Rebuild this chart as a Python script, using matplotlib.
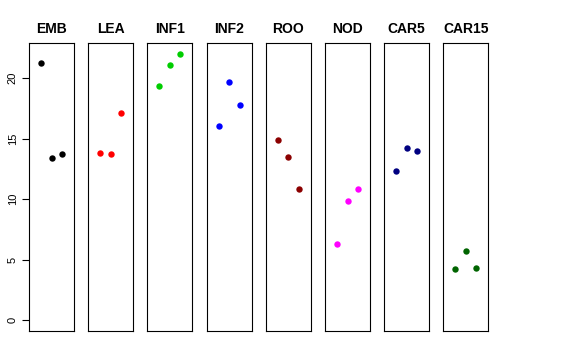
import numpy as np
import matplotlib
matplotlib.use("Agg")
import matplotlib.pyplot as plt

plt.rcParams['font.family'] = ['Liberation Sans', 'DejaVu Sans']

groups = ['EMB', 'LEA', 'INF1', 'INF2', 'ROO', 'NOD', 'CAR5', 'CAR15']
colors = ['black', 'red', '#00CD00', 'blue', '#8B0000', 'magenta', '#000080', '#006400']
vals = [
    [21.2, 13.4, 13.7],
    [13.8, 13.7, 17.1],
    [19.35, 21.05, 22.0],
    [16.0, 19.65, 17.8],
    [14.9, 13.5, 10.8],
    [6.3, 9.85, 10.85],
    [12.35, 14.25, 14.0],
    [4.25, 5.7, 4.3],
]
reps = [1, 2, 3]

fig = plt.figure(figsize=(5.76, 3.6), dpi=100)

# panel layout in pixels
W, H = 576, 360
x0, pw, step = 29, 45, 59.2
top, bot = 43, 331

for i, g in enumerate(groups):
    left = x0 + i * step
    ax = fig.add_axes([left / W, (H - bot) / H, pw / W, (bot - top) / H])
    ax.plot(reps, vals[i], 'o', color=colors[i], markersize=4.6, markeredgewidth=0)
    ax.set_xlim(-0.16, 4.16)
    ax.set_ylim(-0.88, 22.88)
    ax.set_xticks([])
    ax.set_title(g, fontsize=10, fontweight='bold', pad=7)
    for s in ax.spines.values():
        s.set_linewidth(0.8)
    if i == 0:
        ax.set_yticks([0, 5, 10, 15, 20])
        ax.tick_params(axis='y', length=5, width=0.8, labelsize=8, pad=3)
        for lab in ax.get_yticklabels():
            lab.set_rotation(90)
            lab.set_va('center')
    else:
        ax.set_yticks([])

fig.savefig('out.png', dpi=100)
